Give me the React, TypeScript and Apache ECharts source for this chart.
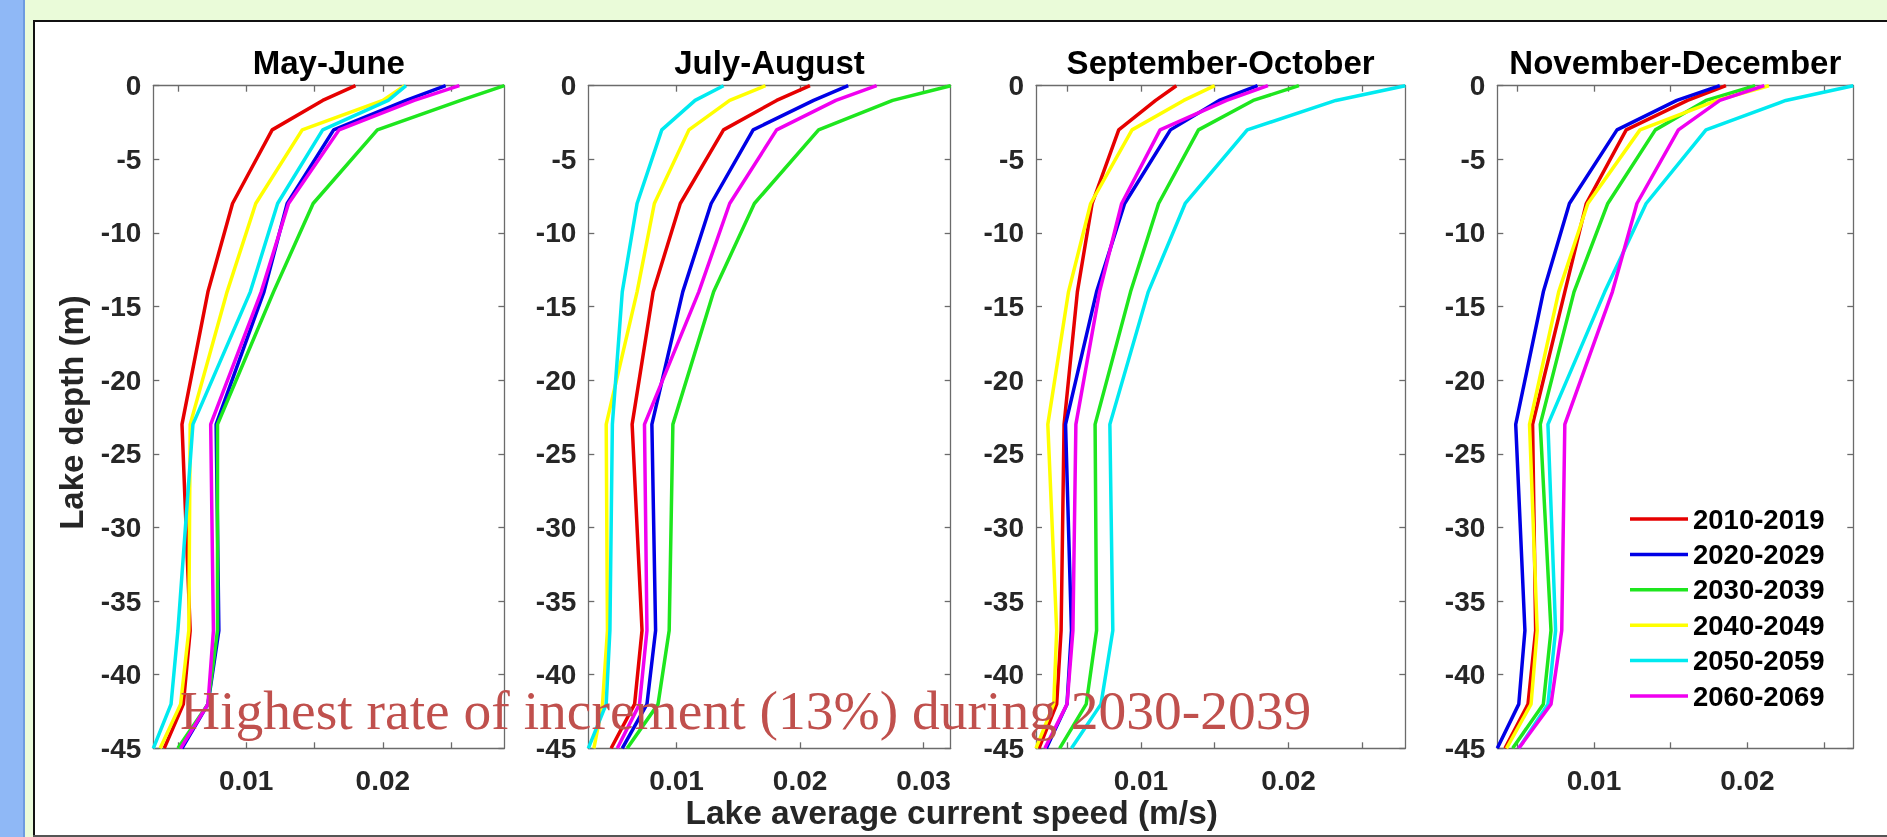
import React, { useEffect, useRef } from 'react';
import * as echarts from 'echarts';

// ---------- data ----------
const depths = [0, -1, -3, -8, -14, -23, -37, -42, -45];
const periods = ['2010-2019', '2020-2029', '2030-2039', '2040-2049', '2050-2059', '2060-2069'];
const panelTitles = ['May-June', 'July-August', 'September-October', 'November-December'];

// May-June
const mayJune2010 = [0.0180, 0.0156, 0.0119, 0.0090, 0.0072, 0.0053, 0.0059, 0.0054, 0.0040];
const mayJune2020 = [0.0246, 0.0217, 0.0164, 0.0130, 0.0113, 0.0078, 0.0080, 0.0072, 0.0053];
const mayJune2030 = [0.0289, 0.0257, 0.0196, 0.0149, 0.0120, 0.0079, 0.0079, 0.0072, 0.0050];
const mayJune2040 = [0.0216, 0.0200, 0.0141, 0.0107, 0.0086, 0.0059, 0.0058, 0.0052, 0.0037];
const mayJune2050 = [0.0217, 0.0204, 0.0156, 0.0123, 0.0103, 0.0061, 0.0050, 0.0045, 0.0032];
const mayJune2060 = [0.0256, 0.0223, 0.0168, 0.0131, 0.0111, 0.0074, 0.0076, 0.0072, 0.0052];

// July-August
const julAug2010 = [0.0208, 0.0181, 0.0138, 0.0103, 0.0081, 0.0064, 0.0072, 0.0066, 0.0047];
const julAug2020 = [0.0239, 0.0211, 0.0162, 0.0128, 0.0105, 0.0080, 0.0083, 0.0076, 0.0056];
const julAug2030 = [0.0322, 0.0275, 0.0215, 0.0163, 0.0130, 0.0097, 0.0094, 0.0085, 0.0060];
const julAug2040 = [0.0172, 0.0143, 0.0110, 0.0082, 0.0068, 0.0043, 0.0044, 0.0040, 0.0033];
const julAug2050 = [0.0138, 0.0115, 0.0088, 0.0068, 0.0056, 0.0048, 0.0046, 0.0043, 0.00285];
const julAug2060 = [0.0262, 0.0229, 0.0181, 0.0143, 0.0118, 0.0074, 0.0076, 0.0070, 0.0052];

// September-October
const sepOct2010 = [0.0124, 0.0110, 0.0085, 0.0067, 0.0057, 0.0048, 0.0046, 0.0043, 0.0031];
const sepOct2020 = [0.0179, 0.0153, 0.0120, 0.0089, 0.0070, 0.0049, 0.0053, 0.0050, 0.0036];
const sepOct2030 = [0.0207, 0.0176, 0.0139, 0.0112, 0.0093, 0.0069, 0.0070, 0.0063, 0.0045];
const sepOct2040 = [0.0150, 0.0129, 0.0094, 0.0066, 0.0051, 0.0037, 0.0043, 0.0041, 0.0029];
const sepOct2050 = [0.0279, 0.0232, 0.0172, 0.0130, 0.0105, 0.0079, 0.0081, 0.0073, 0.0053];
const sepOct2060 = [0.0186, 0.0158, 0.0113, 0.0087, 0.0072, 0.0056, 0.0054, 0.0050, 0.0035];

// November-December
const novDec2010 = [0.0186, 0.0161, 0.0121, 0.0095, 0.0081, 0.0060, 0.0062, 0.0057, 0.0042];
const novDec2020 = [0.0182, 0.0154, 0.0115, 0.0084, 0.0067, 0.0049, 0.0055, 0.0051, 0.0037];
const novDec2030 = [0.0205, 0.0173, 0.0140, 0.0109, 0.0087, 0.0065, 0.0072, 0.0067, 0.0047];
const novDec2040 = [0.0214, 0.0180, 0.0130, 0.0096, 0.0077, 0.0058, 0.0063, 0.0059, 0.0043];
const novDec2050 = [0.0269, 0.0225, 0.0173, 0.0134, 0.0107, 0.0070, 0.0075, 0.0070, 0.0051];
const novDec2060 = [0.0211, 0.0182, 0.0155, 0.0128, 0.0112, 0.0081, 0.0079, 0.0072, 0.0051];

const panelSeries = [
  [mayJune2010, mayJune2020, mayJune2030, mayJune2040, mayJune2050, mayJune2060],
  [julAug2010, julAug2020, julAug2030, julAug2040, julAug2050, julAug2060],
  [sepOct2010, sepOct2020, sepOct2030, sepOct2040, sepOct2050, sepOct2060],
  [novDec2010, novDec2020, novDec2030, novDec2040, novDec2050, novDec2060],
];

const xTickValues = [
  [0.005, 0.01, 0.015, 0.02, 0.025],
  [0.01, 0.02, 0.03],
  [0.005, 0.01, 0.015, 0.02, 0.025],
  [0.005, 0.01, 0.015, 0.02, 0.025],
];
const xLabelValues = [
  [0.01, 0.02],
  [0.01, 0.02, 0.03],
  [0.01, 0.02],
  [0.01, 0.02],
];

const xAxisTitle = 'Lake average current speed (m/s)';
const yAxisTitle = 'Lake depth (m)';
const annotationText = 'Highest rate of increment (13%) during 2030-2039';

// ---------- styles / layout ----------
const lineColors = ['#e60000', '#0000e6', '#1ee61e', '#ffff00', '#00eaf0', '#f000f0'];
const gridLefts = [153.3, 588.3, 1036, 1497.3];
const gridWidths = [351.1, 362.4, 369.3, 356];
const gridTop = 85.7;
const gridHeight = 662.6;
const SANS = '"Liberation Sans", Arial, Helvetica, sans-serif';
const SERIF = '"Liberation Serif", "Times New Roman", serif';
const axisGray = '#6b6b6b';
const labelColor = '#262626';

export default function App() {
  const ref = useRef<HTMLDivElement>(null);

  useEffect(() => {
    if (!ref.current) return;
    const chart = echarts.init(ref.current, null, { renderer: 'svg' });

    const grids: any[] = [];
    const xAxes: any[] = [];
    const yAxes: any[] = [];
    const series: any[] = [];

    panelSeries.forEach((group, i) => {
      const all = group.flat();
      const xMin = Math.min(...all);
      const xMax = Math.max(...all);
      grids.push({ left: gridLefts[i], top: gridTop, width: gridWidths[i], height: gridHeight, show: false });
      const lineStyle = { color: axisGray, width: 1.3 };
      xAxes.push({
        type: 'value', gridIndex: i, position: 'bottom', min: xMin, max: xMax,
        axisLine: { show: true, onZero: false, lineStyle },
        axisTick: { show: true, inside: true, length: 6, customValues: xTickValues[i], lineStyle },
        axisLabel: {
          show: true, customValues: xLabelValues[i], formatter: (v: number) => v.toFixed(2),
          margin: 32, verticalAlign: 'middle', fontSize: 28, fontWeight: 'bold', fontFamily: SANS, color: labelColor,
        },
        splitLine: { show: false },
      });
      xAxes.push({
        type: 'value', gridIndex: i, position: 'top', min: xMin, max: xMax,
        axisLine: { show: true, onZero: false, lineStyle },
        axisTick: { show: true, inside: true, length: 6, customValues: xTickValues[i], lineStyle },
        axisLabel: { show: false },
        splitLine: { show: false },
      });
      yAxes.push({
        type: 'value', gridIndex: i, position: 'left', min: -45, max: 0, interval: 5,
        axisLine: { show: true, onZero: false, lineStyle },
        axisTick: { show: true, inside: true, length: 6, lineStyle },
        axisLabel: { show: true, margin: 12, fontSize: 28, fontWeight: 'bold', fontFamily: SANS, color: labelColor },
        splitLine: { show: false },
      });
      yAxes.push({
        type: 'value', gridIndex: i, position: 'right', min: -45, max: 0, interval: 5,
        axisLine: { show: true, onZero: false, lineStyle },
        axisTick: { show: true, inside: true, length: 6, lineStyle },
        axisLabel: { show: false },
        splitLine: { show: false },
      });
      group.forEach((vals, j) => {
        series.push({
          type: 'line', name: periods[j], xAxisIndex: 2 * i, yAxisIndex: 2 * i,
          data: vals.map((v, k) => [v, depths[k]]),
          symbol: 'none', showSymbol: false, clip: false,
          color: lineColors[j],
          itemStyle: { color: lineColors[j] },
          lineStyle: { color: lineColors[j], width: 3.5 },
          z: 2 + j,
          emphasis: { disabled: true },
        });
      });
    });

    const text = (t: string, x: number, y: number, font: string, fill: string, extra: any = {}) => ({
      type: 'text', x, y, silent: true, z: 50, ...extra,
      style: {
        text: t, font, fill,
        align: extra.align || 'center', verticalAlign: 'middle',
        textAlign: extra.align || 'center', textVerticalAlign: 'middle',
      },
    });

    const graphic: any[] = [
      { type: 'rect', silent: true, z: -100, shape: { x: 0, y: 0, width: 1887, height: 837 }, style: { fill: '#eafbd9' } },
      { type: 'rect', silent: true, z: -99, shape: { x: 0, y: 0, width: 23, height: 837 }, style: { fill: '#8fb8f6' } },
      { type: 'rect', silent: true, z: -99, shape: { x: 23, y: 0, width: 2, height: 837 }, style: { fill: '#6d9be0' } },
      { type: 'rect', silent: true, z: -99, shape: { x: 35, y: 22, width: 1852, height: 813 }, style: { fill: '#ffffff' } },
      { type: 'rect', silent: true, z: -98, shape: { x: 33, y: 20, width: 2, height: 817 }, style: { fill: '#111111' } },
      { type: 'rect', silent: true, z: -98, shape: { x: 33, y: 20, width: 1854, height: 2 }, style: { fill: '#111111' } },
      { type: 'rect', silent: true, z: -98, shape: { x: 33, y: 835, width: 1854, height: 2 }, style: { fill: '#555555' } },
    ];
    panelTitles.forEach((t, i) => {
      graphic.push(text(t, gridLefts[i] + gridWidths[i] / 2, 62, `bold 33px ${SANS}`, '#000000'));
    });
    graphic.push(text(xAxisTitle, 951.7, 812, `bold 33.5px ${SANS}`, labelColor));
    graphic.push(text(yAxisTitle, 71, 412.5, `bold 33px ${SANS}`, labelColor, { rotation: Math.PI / 2 }));
    graphic.push({ ...text(annotationText, 180, 710, `55.5px ${SERIF}`, '#c0504d', { align: 'left' }), z: 100 });

    chart.setOption({
      animation: false,
      backgroundColor: 'transparent',
      grid: grids,
      xAxis: xAxes,
      yAxis: yAxes,
      series,
      legend: {
        show: true, data: periods, orient: 'vertical', left: 1630, top: 505,
        icon: 'rect', itemWidth: 58, itemHeight: 3.5, itemGap: 7.4, padding: 0, selectedMode: false,
        textStyle: { fontSize: 27.5, fontWeight: 'bold', fontFamily: SANS, color: '#000000', lineHeight: 28 },
      },
      graphic,
    });

    return () => chart.dispose();
  }, []);

  return <div ref={ref} style={{ position: 'fixed', left: 0, top: 0, width: 1887, height: 837 }} />;
}
